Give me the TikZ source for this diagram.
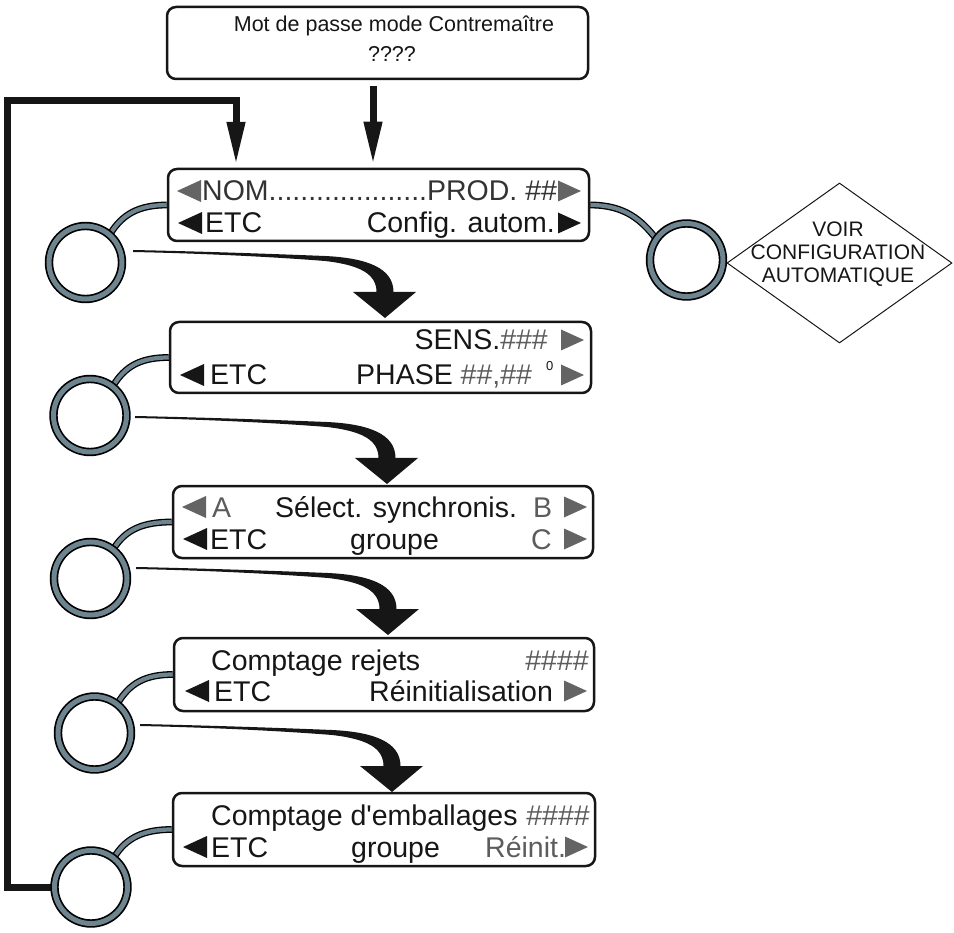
\documentclass[tikz,border=0pt]{standalone}
\usepackage{fontspec}
\setmainfont{Liberation Sans}[Ligatures=TeXOff]
\usetikzlibrary{arrows.meta,shapes.geometric}

\definecolor{ring}{RGB}{110,132,143}
\definecolor{dim}{RGB}{92,92,92}
\definecolor{trigray}{RGB}{100,100,100}
\definecolor{ink}{RGB}{22,22,22}

\pgfdeclarelayer{back}
\pgfsetlayers{back,main}

\newcommand\lcdfont{\fontsize{28.5}{32}\selectfont}
\newcommand\topfont{\fontsize{21.5}{26}\selectfont}
\newcommand\dmfont{\fontsize{21}{23}\selectfont}

% display arrows: left-pointing (tip x, centre y) and right-pointing (tip x, centre y)
\newcommand\ltri[3]{\fill[#3] (#1,#2) -- ++(24,-11) -- ++(0,22) -- cycle;}
\newcommand\rtri[3]{\fill[#3] (#1,#2) -- ++(-23,-10.5) -- ++(0,21) -- cycle;}

% tapered bent arrow, drawn relative to its tip
\newcommand\swoosh[1]{%
  \begin{scope}[shift={(#1)}]
    \fill[ink] (-252,-68) .. controls (-180,-66.5) and (-110,-64) .. (-60,-62)
      .. controls (-18,-60) and (8.5,-50) .. (8.5,-26) -- (31,-26) -- (0,0) -- (-32,-26)
      -- (-8.5,-26) .. controls (-8.5,-44) and (-25,-53) .. (-60,-57)
      .. controls (-110,-61) and (-180,-64.5) .. (-252,-66) -- cycle;
  \end{scope}}

\begin{document}
\begin{tikzpicture}[x=1pt,y=-1pt,
  lcd/.style={draw=ink, line width=2.5pt, rounded corners=9pt, fill=white, inner sep=0pt},
  knob/.style={circle, draw=black, line width=1.7pt, double=ring, double distance=5pt,
    fill=white, minimum size=73pt, inner sep=0pt},
  cable/.style={draw=black, line width=1.3pt, double=ring, double distance=4.2pt},
  lbl/.style={inner sep=0pt, font=\lcdfont, text=ink},
  toptxt/.style={inner sep=0pt, font=\topfont, text=ink},
  straight/.style={draw=ink, line width=7pt, -{Triangle[width=17pt,length=43pt]}},
]
\useasboundingbox (0,0) rectangle (954,933);

% displays
\node[lcd, minimum width=421pt, minimum height=72pt] (top) at (377.5,43) {};
\node[lcd, minimum width=421pt, minimum height=72pt] (b1) at (378.5,205) {};
\node[lcd, minimum width=421pt, minimum height=71pt] (b2) at (380.5,357.5) {};
\node[lcd, minimum width=420pt, minimum height=72pt] (b3) at (383,522) {};
\node[lcd, minimum width=420pt, minimum height=73pt] (b4) at (384,674.5) {};
\node[lcd, minimum width=422pt, minimum height=73pt] (b5) at (384,829.5) {};

% knobs
\node[knob] (c1) at (85.5,262.5) {};
\node[knob] (c2) at (90,415.5) {};
\node[knob] (c3) at (90.5,578.5) {};
\node[knob] (c4) at (94.5,733) {};
\node[knob] (c5) at (91,887) {};
\node[knob] (cr) at (686.5,260) {};

% return loop and cables, kept behind knobs and displays
\coordinate (lc) at (7.5,101);
\coordinate (in1) at (236,169);
\begin{pgfonlayer}{back}
  \draw[straight, shorten >=4pt] (c5.center) -- (c5.center -| lc) -- (lc) -| (in1);
  \draw[cable] (c1.49) .. controls +(12,-20) and +(-28,0) .. (b1.west);
  \draw[cable] (c2.52) .. controls +(12,-20) and +(-28,0) .. (b2.west);
  \draw[cable] (c3.52) .. controls +(12,-20) and +(-28,0) .. (b3.west);
  \draw[cable] (c4.52) .. controls +(12,-20) and +(-28,0) .. (b4.west);
  \draw[cable] (c5.52) .. controls +(12,-20) and +(-28,0) .. (b5.west);
  \draw[cable] (b1.east) .. controls +(35,0) and +(-14,-18) .. (cr.145);
\end{pgfonlayer}

% password prompt
\node[toptxt, anchor=base] (pw1) at (394,32) {Mot de passe mode Contremaître};
\node[toptxt, anchor=base] (pw2) at (392,62) {????};
\coordinate (a0) at (373,86);
\draw[straight, shorten >=3pt] (a0) -- (a0 |- b1.north);

% display 1
\ltri{177}{191}{trigray}
\node[lbl, anchor=base west, text=black!80] (b1a) at (202,201) {NOM....................PROD. \#\#};
\rtri{581}{191}{trigray}
\ltri{178}{223}{ink}
\node[lbl, anchor=base west] (b1b) at (205,233) {ETC};
\node[lbl, anchor=base east] (b1c) at (555,233) {Config. autom.};
\rtri{581}{223}{ink}

% display 2
\node[lbl, anchor=base east] (b2a) at (548,350) {SENS.\textcolor{dim}{\#\#\#}};
\rtri{584}{340}{trigray}
\ltri{180}{375}{ink}
\node[lbl, anchor=base west] (b2b) at (210,385) {ETC};
\node[lbl, anchor=base west] (b2c) at (356,385) {PHASE \textcolor{dim}{\#\#,\#\#}};
\node[inner sep=0pt, anchor=base west, font=\fontsize{13}{15}\selectfont, text=ink] (b2d) at (546,371) {0};
\rtri{584}{375}{trigray}

% display 3
\ltri{182}{507}{trigray}
\node[lbl, anchor=base west, text=dim] (b3a) at (212,517) {A};
\node[lbl, anchor=base west] (b3b) at (275,517) {Sélect. synchronis.};
\node[lbl, anchor=base west, text=dim] (b3c) at (533,517) {B};
\rtri{587}{507}{trigray}
\ltri{183}{539}{ink}
\node[lbl, anchor=base west] (b3d) at (210,549) {ETC};
\node[lbl, anchor=base west] (b3e) at (350,549) {groupe};
\node[lbl, anchor=base west, text=dim] (b3f) at (531,549) {C};
\rtri{587}{539}{trigray}

% display 4
\node[lbl, anchor=base west] (b4a) at (211,670) {Comptage rejets};
\node[lbl, anchor=base east, text=dim] (b4b) at (589,670) {\#\#\#\#};
\ltri{185}{691}{ink}
\node[lbl, anchor=base west] (b4c) at (214,701) {ETC};
\node[lbl, anchor=base west] (b4d) at (369,701) {Réinitialisation};
\rtri{587}{691}{trigray}

% display 5
\node[lbl, anchor=base west] (b5a) at (211,825) {Comptage d'emballages};
\node[lbl, anchor=base east, text=dim] (b5b) at (590,825) {\#\#\#\#};
\ltri{183}{847}{ink}
\node[lbl, anchor=base west] (b5c) at (211,857) {ETC};
\node[lbl, anchor=base west] (b5d) at (351,857) {groupe};
\node[lbl, anchor=base west, text=dim] (b5e) at (485,857) {Réinit.};
\rtri{588}{847}{trigray}

% bent arrows from each knob to the next display
\coordinate (t1) at (385,318);
\coordinate (t2) at (387,484);
\coordinate (t3) at (388,635);
\coordinate (t4) at (392,792);
\swoosh{t1}
\swoosh{t2}
\swoosh{t3}
\swoosh{t4}

% automatic configuration reference
\node[diamond, draw=ink, line width=1pt, minimum width=225pt, minimum height=160pt, inner sep=0pt] (dm) at (839.5,263) {};
\node[inner sep=0pt, align=center, font=\dmfont, text=ink] (dmt) at (838,254.5) {VOIR\\CONFIGURATION\\AUTOMATIQUE};
\end{tikzpicture}
\end{document}
